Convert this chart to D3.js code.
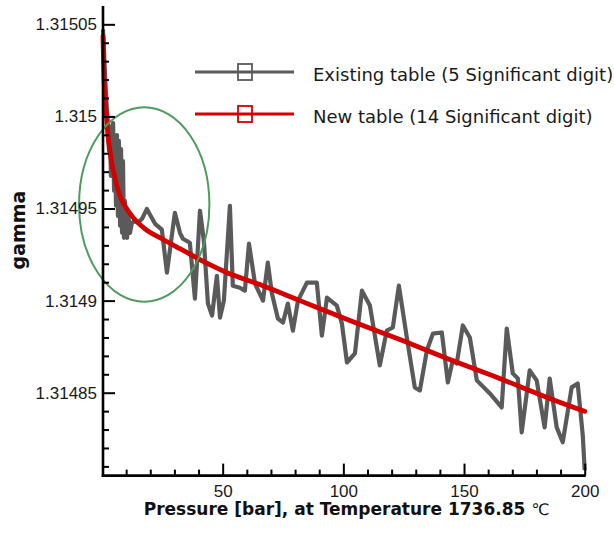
<!DOCTYPE html>
<html>
<head>
<meta charset="utf-8">
<script src="https://cdn.jsdelivr.net/npm/d3@7"></script>
<style>
  body { margin: 0; background: #fff; }
  svg { display: block; }
</style>
</head>
<body>
<svg id="chart" width="614" height="535"></svg>
<script>
// Existing table (5 significant digits): pressure [bar] and gamma
const pressureOld = [0.4,0.8,1.2,1.7,2.1,2.5,2.9,3.3,3.7,4.1,4.6,5.0,5.4,5.8,6.2,6.6,7.0,7.5,7.9,8.3,
  8.7,9.1,9.5,9.9,10.4,10.8,11.6,12.4,13.7,14.9,16.6,18.6,19.9,22.0,24.8,26.9,30.2,32.3,33.5,36.4,
  38.5,40.6,42.2,43.9,45.6,47.6,48.9,50.5,53.0,54.2,57.1,59.2,60.9,63.4,66.7,68.7,70.4,72.9,75.0,77.0,
  79.1,81.2,84.9,89.0,91.1,93.2,97.3,99.4,101.5,104.8,107.7,111.0,115.1,118.0,120.5,123.0,126.3,129.6,131.7,134.6,
  137.1,140.8,143.3,145.3,147.0,149.5,152.4,155.3,160.7,165.6,167.7,170.2,172.3,173.9,177.2,180.1,183.4,185.5,188.4,190.9,
  194.6,197.1,199.2,200];
const gammaOld = [1.3150473,1.3150365,1.3150235,1.3150111,1.3150018,1.3149953,1.3149813,1.3149921,1.3149677,1.3149943,
  1.3149964,1.3149596,1.3149888,1.3149515,1.3149899,1.3149460,1.3149867,1.3149406,1.3149823,1.3149368,
  1.3149758,1.3149341,1.3149542,1.3149379,1.3149341,1.3149488,1.3149368,1.3149423,1.3149433,1.3149423,
  1.3149444,1.3149498,1.3149466,1.3149417,1.3149385,1.3149152,1.3149477,1.3149368,1.3149336,1.3149314,
  1.3149011,1.3149488,1.3149325,1.3148984,1.3148919,1.3149135,1.3148908,1.3149000,1.3149515,1.3149081,
  1.3149070,1.3149054,1.3149309,1.3149092,1.3149000,1.3149206,1.3149038,1.3148902,1.3148881,1.3148984,
  1.3148837,1.3149000,1.3149098,1.3149098,1.3148810,1.3149016,1.3148973,1.3148875,1.3148664,1.3148713,
  1.3149054,1.3148973,1.3148648,1.3148837,1.3148854,1.3149081,1.3148800,1.3148529,1.3148512,1.3148729,
  1.3148821,1.3148827,1.3148556,1.3148675,1.3148659,1.3148865,1.3148800,1.3148567,1.3148496,1.3148420,
  1.3148848,1.3148605,1.3148577,1.3148285,1.3148621,1.3148567,1.3148312,1.3148577,1.3148312,1.3148231,
  1.3148529,1.3148550,1.3148269,1.3148079];

// New table (14 significant digits)
const pressureNew = [0.4,0.8,1.2,1.9,2.5,3.3,4.1,5.4,6.6,8.3,10.8,13.7,17.8,24.8,32.3,38.5,44.7,50.9,65.4,82.0,
  102.7,123.4,144.1,164.8,185.5,200];
const gammaNew = [1.3150436,1.3150219,1.3150111,1.3149997,1.3149894,1.3149813,1.3149742,1.3149666,1.3149601,1.3149542,
  1.3149488,1.3149439,1.3149390,1.3149336,1.3149282,1.3149238,1.3149195,1.3149157,1.3149087,1.3149000,
  1.3148892,1.3148789,1.3148680,1.3148577,1.3148469,1.3148399];

const seriesNames = ["Existing table (5 Significant digit)", "New table (14 Significant digit)"];
const seriesColors = ["#5a5a5a", "#d50000"];

const xMajorTicks = [50, 100, 150, 200];
const xTickLabels = ["50", "100", "150", "200"];
const xMinorTicks = [10,20,30,40,60,70,80,90,110,120,130,140,160,170,180,190];
const yMajorTicks = [1.31485, 1.3149, 1.31495, 1.315, 1.31505];
const yTickLabels = ["1.31485", "1.3149", "1.31495", "1.315", "1.31505"];
const yMinorTicks = [1.31481,1.31482,1.31483,1.31484,1.31486,1.31487,1.31488,1.31489,
  1.31491,1.31492,1.31493,1.31494,1.31496,1.31497,1.31498,1.31499,
  1.31501,1.31502,1.31503,1.31504];

const xTitle = "Pressure [bar], at Temperature 1736.85 ";
const xTitleUnit = "\u2103";
const yTitle = "gamma";

// highlighted region (centre and half-widths in data units)
const highlight = { p: 17.5, g: 1.3149522, dp: 27, dg: 0.0000528 };

const svg = d3.select("#chart");
const x = d3.scaleLinear().domain([0, 200]).range([102, 584.7]);
const y = d3.scaleLinear().domain([1.314805, 1.31506]).range([475.6, 5.9]);

const tickFont = "'Liberation Sans', Arial, sans-serif";

// data lines
const oldPts = pressureOld.map((p, i) => [p, gammaOld[i]]);
const newPts = pressureNew.map((p, i) => [p, gammaNew[i]]);
const lineLinear = d3.line().x(d => x(d[0])).y(d => y(d[1]));
const lineSmooth = d3.line().x(d => x(d[0])).y(d => y(d[1])).curve(d3.curveMonotoneX);

svg.append("path").datum(oldPts)
  .attr("d", lineLinear).attr("fill", "none")
  .attr("stroke", seriesColors[0]).attr("stroke-width", 4.2)
  .attr("stroke-linejoin", "round");
svg.append("path").datum(newPts)
  .attr("d", lineSmooth).attr("fill", "none")
  .attr("stroke", seriesColors[1]).attr("stroke-width", 4.8)
  .attr("stroke-linecap", "round");

// green ellipse
svg.append("ellipse")
  .attr("cx", x(highlight.p)).attr("cy", y(highlight.g))
  .attr("rx", x(highlight.p + highlight.dp) - x(highlight.p))
  .attr("ry", y(highlight.g) - y(highlight.g + highlight.dg))
  .attr("fill", "none").attr("stroke", "#4f9a60").attr("stroke-width", 2);

// axes
const xAxisY = y(1.314805);
const yAxisX = x(0) + 1;

const gx = svg.append("g").attr("transform", `translate(0,${xAxisY})`);
gx.call(d3.axisBottom(x).tickValues(xMajorTicks).tickSizeInner(-12).tickSizeOuter(0)
  .tickPadding(9).tickFormat((d, i) => xTickLabels[i]));
const gxm = svg.append("g").attr("transform", `translate(0,${xAxisY})`);
gxm.call(d3.axisBottom(x).tickValues(xMinorTicks).tickSizeInner(-6).tickSizeOuter(0).tickFormat(""));

const gy = svg.append("g").attr("transform", `translate(${yAxisX},0)`);
gy.call(d3.axisLeft(y).tickValues(yMajorTicks).tickSizeInner(-12).tickSizeOuter(0)
  .tickPadding(6).tickFormat((d, i) => yTickLabels[i]));
const gym = svg.append("g").attr("transform", `translate(${yAxisX},0)`);
gym.call(d3.axisLeft(y).tickValues(yMinorTicks).tickSizeInner(-6).tickSizeOuter(0).tickFormat(""));

[gx, gxm, gy, gym].forEach(g => {
  g.select(".domain").remove();
  g.selectAll(".tick line").attr("stroke", "#000").attr("stroke-width", 2);
  g.selectAll("text").attr("font-family", tickFont).attr("font-size", 17).attr("fill", "#1a1a1a");
});

// axis lines
svg.append("line").attr("x1", yAxisX).attr("x2", yAxisX)
  .attr("y1", y(1.31506)).attr("y2", xAxisY + 1.2)
  .attr("stroke", "#000").attr("stroke-width", 2.6);
svg.append("line").attr("x1", yAxisX - 1.3).attr("x2", x(200) + 1)
  .attr("y1", xAxisY).attr("y2", xAxisY)
  .attr("stroke", "#000").attr("stroke-width", 2.6);

// axis titles
const xt = svg.append("text")
  .attr("x", 346.5).attr("y", 515).attr("text-anchor", "middle")
  .attr("font-family", "'DejaVu Sans', Verdana, sans-serif").attr("font-size", 17)
  .attr("fill", "#111");
xt.append("tspan").attr("font-weight", "bold").text(xTitle);
xt.append("tspan").attr("font-weight", "normal").attr("font-size", 16).text(xTitleUnit);

svg.append("text")
  .attr("transform", "translate(25,230) rotate(-90)")
  .attr("text-anchor", "middle")
  .attr("font-family", "'DejaVu Sans', Verdana, sans-serif").attr("font-size", 19)
  .attr("font-weight", "bold").attr("fill", "#111")
  .text(yTitle);

// legend
const legendRows = [72, 114];
seriesNames.forEach((name, i) => {
  const ly = legendRows[i];
  const g = svg.append("g");
  g.append("line").attr("x1", 195).attr("x2", 294).attr("y1", ly).attr("y2", ly)
    .attr("stroke", seriesColors[i]).attr("stroke-width", 3);
  g.append("rect").attr("x", 238).attr("y", ly - 8).attr("width", 14).attr("height", 16)
    .attr("fill", "none").attr("stroke", seriesColors[i]).attr("stroke-width", 1.8);
  g.append("text").attr("x", 313).attr("y", ly + 9)
    .attr("font-family", "'DejaVu Sans', Verdana, sans-serif").attr("font-size", 18)
    .attr("fill", "#1a1a1a").text(name);
});
</script>
</body>
</html>
